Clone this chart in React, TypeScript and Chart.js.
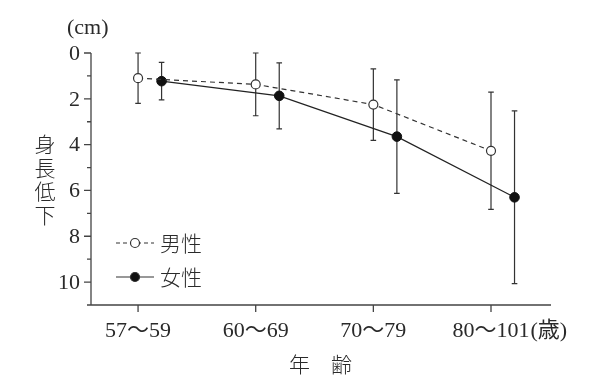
import React, { useEffect, useRef } from "react";
import { Chart, registerables } from "chart.js";
Chart.register(...registerables);

const categories = ["57～59", "60～69", "70～79", "80～101"];
const lastUnit = "(歳)";
const maleMean = [1.1, 1.37, 2.25, 4.27];
const maleSD = [1.1, 1.37, 1.56, 2.56];
const femaleMean = [1.23, 1.87, 3.65, 6.3];
const femaleSD = [0.82, 1.44, 2.48, 3.77];
const yMajorTicks = [0, 2, 4, 6, 8, 10];
const yMinorTicks = [1, 3, 5, 7, 9];
const seriesNames = ["男性", "女性"];
const yTitle = "身長低下";
const xTitle = "年　齢";
const yUnit = "(cm)";

const FEMALE_OFFSET = 0.2;
const SERIF = '"Liberation Serif", "Noto Sans CJK JP", serif';
const CJK = '"Noto Sans CJK JP", sans-serif';
const INK = "#2a2a2a";

const customPlugin = {
  id: "custom",
  beforeDatasetsDraw(chart: any) {
    const ctx = chart.ctx;
    const xs = chart.scales.x;
    const ys = chart.scales.y;
    ctx.save();
    ctx.strokeStyle = "#333";
    ctx.lineWidth = 1.2;
    const bars = (means: number[], sds: number[], off: number) => {
      means.forEach((m, i) => {
        const x = xs.getPixelForValue(i + off);
        const t = ys.getPixelForValue(m - sds[i]);
        const b = ys.getPixelForValue(m + sds[i]);
        ctx.beginPath();
        ctx.moveTo(x, t);
        ctx.lineTo(x, b);
        ctx.moveTo(x - 2.8, t);
        ctx.lineTo(x + 2.8, t);
        ctx.moveTo(x - 2.8, b);
        ctx.lineTo(x + 2.8, b);
        ctx.stroke();
      });
    };
    bars(maleMean, maleSD, 0);
    bars(femaleMean, femaleSD, FEMALE_OFFSET);
    ctx.restore();
  },
  afterDraw(chart: any) {
    const ctx = chart.ctx;
    const xs = chart.scales.x;
    const ys = chart.scales.y;
    const left = xs.left;
    const right = xs.right;
    const top = ys.getPixelForValue(0);
    const bottom = ys.getPixelForValue(ys.max);
    ctx.save();
    ctx.strokeStyle = "#444";
    ctx.lineWidth = 1.3;
    // axes
    ctx.beginPath();
    ctx.moveTo(left, top);
    ctx.lineTo(left, bottom);
    ctx.moveTo(left - 4, bottom);
    ctx.lineTo(right, bottom);
    ctx.stroke();
    // y ticks
    ctx.beginPath();
    yMajorTicks.forEach((v) => {
      const y = ys.getPixelForValue(v);
      ctx.moveTo(left - 7, y);
      ctx.lineTo(left, y);
    });
    yMinorTicks.forEach((v) => {
      const y = ys.getPixelForValue(v);
      ctx.moveTo(left - 4, y);
      ctx.lineTo(left, y);
    });
    categories.forEach((_, i) => {
      const x = xs.getPixelForValue(i);
      ctx.moveTo(x, bottom);
      ctx.lineTo(x, bottom + 7);
    });
    ctx.stroke();

    ctx.fillStyle = INK;
    // y tick labels
    ctx.font = `22px ${SERIF}`;
    ctx.textAlign = "right";
    ctx.textBaseline = "middle";
    yMajorTicks.forEach((v) => {
      ctx.fillText(String(v), left - 11, ys.getPixelForValue(v) + 1);
    });
    // x tick labels
    ctx.textAlign = "center";
    ctx.textBaseline = "alphabetic";
    categories.forEach((c, i) => {
      const x = xs.getPixelForValue(i);
      ctx.fillText(c, x, bottom + 32);
      if (i === categories.length - 1) {
        const w = ctx.measureText(c).width;
        ctx.textAlign = "left";
        ctx.fillText(lastUnit, x + w / 2 + 1, bottom + 32);
        ctx.textAlign = "center";
      }
    });
    // unit
    ctx.textAlign = "left";
    ctx.fillText(yUnit, 67, 34);
    // y title vertical
    ctx.font = `300 21px ${CJK}`;
    ctx.textAlign = "center";
    ctx.textBaseline = "middle";
    Array.from(yTitle).forEach((ch, i) => {
      ctx.fillText(ch, 45, 144 + i * 23.7);
    });
    // x title
    ctx.fillText(xTitle, (xs.getPixelForValue(1) + xs.getPixelForValue(2)) / 2 + 6, 364);

    // legend
    const legendRows = [
      { y: 243, dash: [4, 3], fill: "#fff" },
      { y: 277, dash: [], fill: "#111" },
    ];
    legendRows.forEach((r, i) => {
      ctx.strokeStyle = "#333";
      ctx.lineWidth = 1.2;
      ctx.setLineDash(r.dash);
      ctx.beginPath();
      ctx.moveTo(116, r.y);
      ctx.lineTo(154, r.y);
      ctx.stroke();
      ctx.setLineDash([]);
      ctx.beginPath();
      ctx.arc(135, r.y, 4.5, 0, Math.PI * 2);
      ctx.fillStyle = r.fill;
      ctx.fill();
      ctx.stroke();
      ctx.fillStyle = INK;
      ctx.font = `300 21px ${CJK}`;
      ctx.textAlign = "left";
      ctx.textBaseline = "middle";
      ctx.fillText(seriesNames[i], 160, r.y);
    });
    ctx.restore();
  },
};

export default function App() {
  const ref = useRef<HTMLCanvasElement | null>(null);
  useEffect(() => {
    if (!ref.current) return;
    const chart = new Chart(ref.current, {
      type: "scatter",
      data: {
        datasets: [
          {
            label: seriesNames[0],
            data: maleMean.map((m, i) => ({ x: i, y: m })),
            showLine: true,
            borderColor: "#333",
            borderWidth: 1.2,
            borderDash: [5, 4],
            pointRadius: 4.5,
            pointBorderWidth: 1.2,
            pointBorderColor: "#333",
            pointBackgroundColor: "#fff",
          },
          {
            label: seriesNames[1],
            data: femaleMean.map((m, i) => ({ x: i + FEMALE_OFFSET, y: m })),
            showLine: true,
            borderColor: "#222",
            borderWidth: 1.2,
            pointRadius: 4.8,
            pointBorderWidth: 1,
            pointBorderColor: "#111",
            pointBackgroundColor: "#111",
          },
        ],
      },
      options: {
        animation: false,
        responsive: false,
        events: [],
        layout: { padding: { left: 91, right: 54, top: 53, bottom: 86 } },
        plugins: { legend: { display: false }, tooltip: { enabled: false } },
        scales: {
          x: { type: "linear", min: -0.4, max: 3.51, display: false },
          y: { type: "linear", min: 0, max: 11, reverse: true, display: false },
        },
      },
      plugins: [customPlugin],
    });
    return () => chart.destroy();
  }, []);
  return (
    <div style={{ position: "fixed", left: 0, top: 0, width: 605, height: 391, background: "#fff" }}>
      <canvas ref={ref} width={605} height={391} style={{ width: 605, height: 391 }} />
    </div>
  );
}
